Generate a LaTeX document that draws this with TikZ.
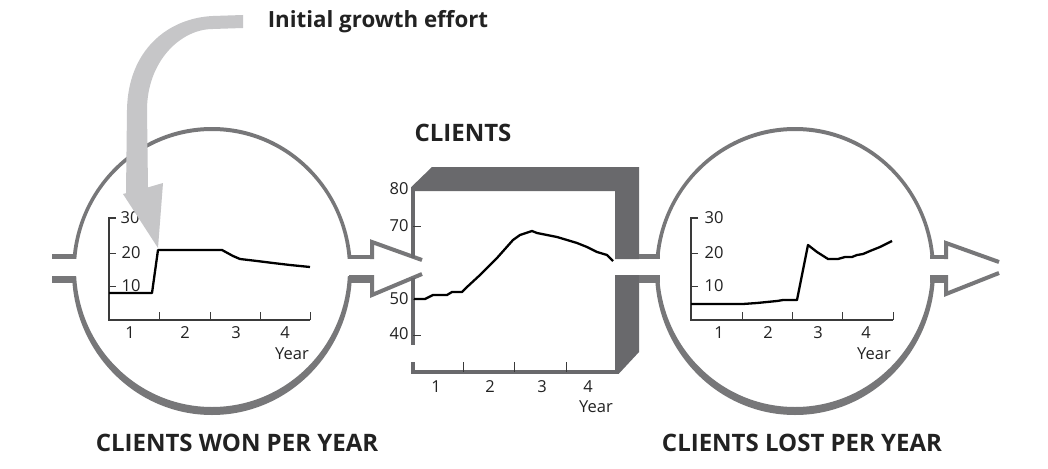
\documentclass[tikz,border=0pt]{standalone}
\usepackage{fontspec}
\setmainfont{Open Sans}
\definecolor{boxgray}{HTML}{69696C}
\definecolor{ringgray}{HTML}{777779}
\definecolor{arrowlight}{HTML}{C6C6C8}
\definecolor{inkdark}{HTML}{222222}
\definecolor{axisdark}{HTML}{3A3A3A}
\tikzset{
  ticklabel/.style={font=\fontsize{16.5}{16.5}\selectfont, text=inkdark, inner sep=0pt},
  headlabel/.style={font=\bfseries\fontsize{24}{24}\selectfont, text=inkdark, inner sep=0pt},
  effortlabel/.style={font=\bfseries\fontsize{22.3}{22.3}\selectfont, text=inkdark, inner sep=0pt},
  curveline/.style={line width=2.3pt, black, line join=round},
  smallaxis/.style={line width=1.3pt, axisdark},
  tickline/.style={line width=1pt, axisdark},
  bigaxis/.style={line width=3.5pt, boxgray},
  arrowline/.style={line width=4pt, ringgray, line join=miter},
}
\begin{document}
\begin{tikzpicture}[x=1pt,y=-1pt]
\useasboundingbox (0,0) rectangle (1048,468);
\fill[white] (0,0) rectangle (1048,468);

% ---------- rings ----------
\fill[ringgray, even odd rule] (212,271) ellipse [x radius=140pt, y radius=144pt]
      (212,269) ellipse [x radius=136pt, y radius=138pt];
\fill[ringgray, even odd rule] (795,271) ellipse [x radius=140pt, y radius=144pt]
      (795,269) ellipse [x radius=136pt, y radius=138pt];
% gaps for pipes
\fill[white] (60,259) rectangle (85,276);
\fill[white] (338,259) rectangle (362,276);
\fill[white] (643,259) rectangle (668,276);
\fill[white] (921,259) rectangle (945,276);

% ---------- pipes ----------
\fill[ringgray] (52,254) rectangle (75,259);
\fill[ringgray] (52,276) rectangle (75,283);
\fill[ringgray] (349,255) rectangle (374,259);
\fill[ringgray] (349,275) rectangle (374,283);
\fill[ringgray] (637,254) rectangle (660,259);
\fill[ringgray] (637,275) rectangle (660,283);
\fill[ringgray] (930,255) rectangle (948,259);
\fill[ringgray] (930,275) rectangle (948,283);

% ---------- hollow arrowheads ----------
\coordinate (la1) at (372,259); \coordinate (la2) at (372,242); \coordinate (la3) at (422,260);
\coordinate (lb1) at (372,275); \coordinate (lb2) at (372,295); \coordinate (lb3) at (422,274);
\draw[arrowline] (la1) -- (la2) -- (la3);
\draw[arrowline] (lb1) -- (lb2) -- (lb3);
\coordinate (ra1) at (946,259); \coordinate (ra2) at (946,243); \coordinate (ra3) at (999,262);
\coordinate (rb1) at (946,275); \coordinate (rb2) at (946,294); \coordinate (rb3) at (999,273);
\draw[arrowline] (ra1) -- (ra2) -- (ra3);
\draw[arrowline] (rb1) -- (rb2) -- (rb3);

% ---------- stock box ----------
\fill[boxgray] (411.3,191) -- (411.3,187) -- (432,167) -- (639,167) -- (639,259)
   -- (615,259) -- (615,191) -- cycle;
\fill[boxgray] (615,275) -- (639,275) -- (639,352) -- (619,373.5) -- (615,373.5) -- cycle;
\draw[bigaxis] (413,187) -- (413,258);
\draw[bigaxis] (413,278) -- (413,345);
\draw[bigaxis] (413,362) -- (413,372) -- (619,372);
\foreach \yy in {226,299,335} \draw[tickline] (413,\yy) -- (421,\yy);
\foreach \xx in {463,514,566} \draw[tickline] (\xx,372) -- (\xx,362);
\node[ticklabel] (c80) at (399,189) {80};
\node[ticklabel] (c70) at (399,226) {70};
\node[ticklabel] (c50) at (399,299) {50};
\node[ticklabel] (c40) at (399,334) {40};
\node[ticklabel] (cx1) at (436,387) {1};
\node[ticklabel] (cx2) at (490,387) {2};
\node[ticklabel] (cx3) at (542,387) {3};
\node[ticklabel] (cx4) at (588,387) {4};
\node[ticklabel] (cyr) at (596,407) {Year};
\draw[curveline] (414,299) -- (425,299) -- (433,295) -- (447,295) -- (452,292) -- (462,292)
  -- (467,287) -- (480,275) -- (497,258) -- (513,240) -- (520,235) -- (532,231) -- (537,233)
  -- (547,235) -- (557,237) -- (567,240) -- (577,243) -- (587,247) -- (597,252) -- (607,255) -- (613,261);

% ---------- left small chart ----------
\draw[smallaxis] (116,218) -- (109,218) -- (109,320) -- (310,320);
\foreach \yy in {253,286} \draw[tickline] (109,\yy) -- (116,\yy);
\foreach \xx in {159,210,260,310} \draw[tickline] (\xx,320) -- (\xx,312);
\node[ticklabel] (l30) at (130,218) {30};
\node[ticklabel] (l20) at (131,253) {20};
\node[ticklabel] (l10) at (131,286) {10};
\node[ticklabel] (lx1) at (130,333) {1};
\node[ticklabel] (lx2) at (185,333) {2};
\node[ticklabel] (lx3) at (236,333) {3};
\node[ticklabel] (lx4) at (285,333) {4};
\node[ticklabel] (lyr) at (292,354) {Year};
\draw[curveline] (109,293) -- (152,293) -- (158,250) -- (222,250) -- (233,256) -- (240,259)
  -- (257,261) -- (273,263) -- (290,265) -- (310,267);

% ---------- right small chart ----------
\draw[smallaxis] (698,218) -- (691,218) -- (691,320) -- (893,320);
\foreach \yy in {253,286} \draw[tickline] (691,\yy) -- (698,\yy);
\foreach \xx in {742,792,842,893} \draw[tickline] (\xx,320) -- (\xx,312);
\node[ticklabel] (r30) at (714,218) {30};
\node[ticklabel] (r20) at (714,253) {20};
\node[ticklabel] (r10) at (714,286) {10};
\node[ticklabel] (rx1) at (719,333) {1};
\node[ticklabel] (rx2) at (768,333) {2};
\node[ticklabel] (rx3) at (818,333) {3};
\node[ticklabel] (rx4) at (866,333) {4};
\node[ticklabel] (ryr) at (874,354) {Year};
\draw[curveline] (691,304) -- (743,304) -- (757,303) -- (767,302) -- (777,301) -- (783,300)
  -- (797,300) -- (808,245) -- (817,252) -- (828,259) -- (838,259) -- (845,257) -- (852,257)
  -- (857,255) -- (863,254) -- (870,251) -- (880,247) -- (892,241);

% ---------- initial growth effort arrow ----------
\fill[arrowlight] (243,15) -- (213,16) .. controls (168,18) and (128,50) .. (127,110)
  -- (126,193.2) -- (123,194) -- (158,248) -- (163,183) -- (148,187.4) -- (147,110)
  .. controls (147,62) and (180,29) .. (213,29) -- (243,28) -- cycle;

% ---------- labels ----------
\node[effortlabel] (effort) at (378,22) {Initial growth effort};
\node[headlabel] (clients) at (463,133) {CLIENTS};
\node[headlabel] (won) at (237,443) {CLIENTS WON PER YEAR};
\node[headlabel] (lost) at (802,443) {CLIENTS LOST PER YEAR};
\end{tikzpicture}
\end{document}
